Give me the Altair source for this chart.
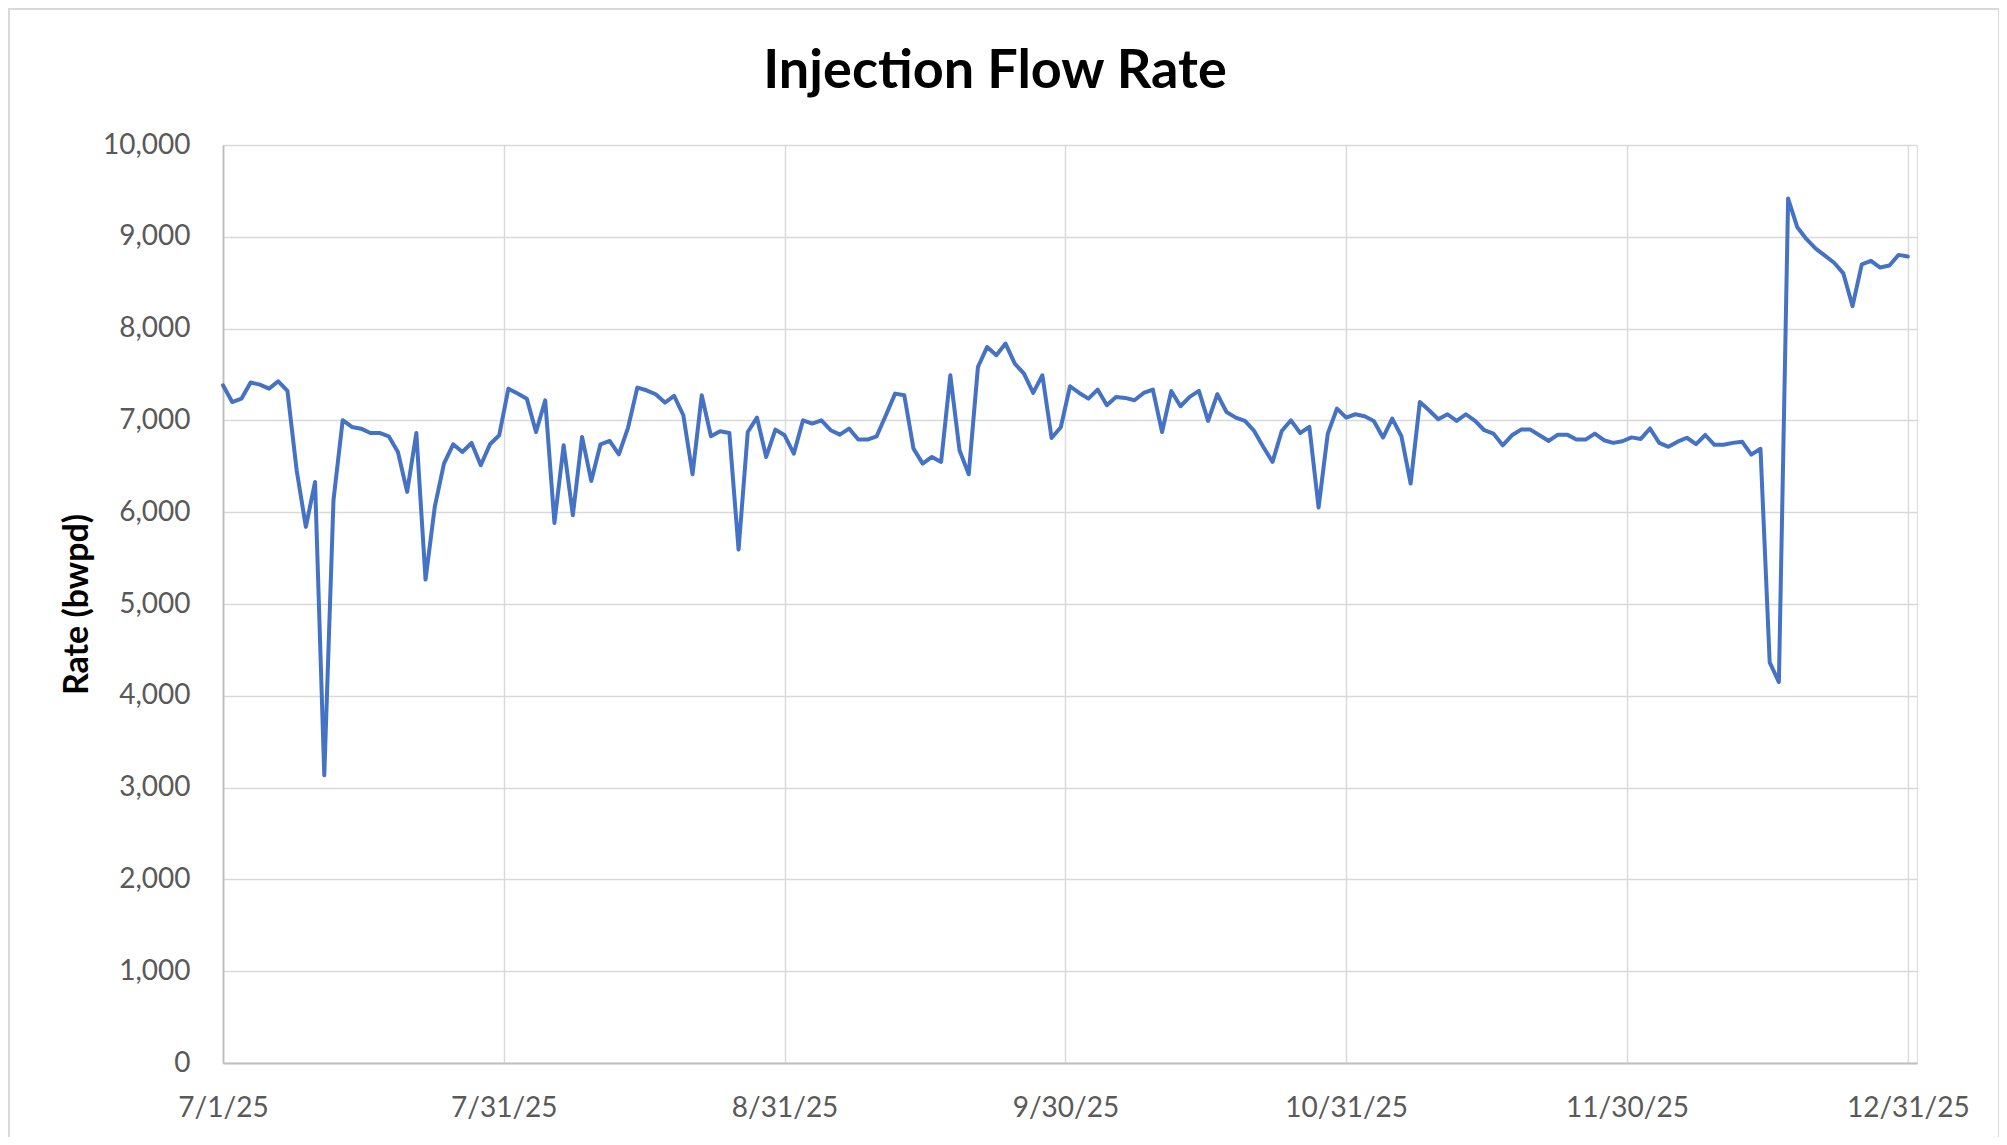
import altair as alt
import pandas as pd

# Daily injection rate (bwpd)
jul = [7383, 7200, 7237, 7412, 7390, 7346, 7426, 7321, 6457, 5840,
       6330, 3134, 6130, 7002, 6929, 6910, 6863, 6863, 6827, 6656,
       6221, 6863, 5266, 6057, 6529, 6740, 6656, 6754, 6511, 6740, 6838]
aug = [7346, 7292, 7237, 6874, 7219, 5883, 6729, 5967, 6820, 6341,
       6740, 6776, 6631, 6922, 7357, 7328, 7285, 7194, 7267, 7056,
       6413, 7274, 6827, 6882, 6863, 5593, 6874, 7030, 6602, 6900, 6838]
sep = [6638, 7001, 6965, 7001, 6893, 6845, 6911, 6791, 6791, 6827,
       7056, 7292, 7274, 6693, 6529, 6602, 6548, 7492, 6675, 6413,
       7582, 7800, 7710, 7837, 7619, 7510, 7299, 7492, 6809, 6925]
octo = [7372, 7299, 7237, 7336, 7165, 7256, 7245, 7219, 7299, 7336,
        6874, 7321, 7154, 7256, 7321, 6994, 7285, 7092, 7030, 6994,
        6885, 6711, 6548, 6885, 7001, 6863, 6929, 6050, 6856, 7129, 7030]
nov = [7067, 7045, 6994, 6813, 7020, 6827, 6312, 7201, 7110, 7012,
       7067, 6994, 7067, 6994, 6893, 6856, 6729, 6838, 6900, 6900,
       6838, 6776, 6845, 6845, 6791, 6791, 6856, 6784, 6755, 6773]
dec = [6815, 6798, 6912, 6755, 6712, 6768, 6811, 6742, 6841, 6734,
       6734, 6755, 6768, 6627, 6691, 4365, 4150, 9416, 9103, 8974,
       8871, 8794, 8717, 8601, 8245, 8700, 8738, 8665, 8687, 8803, 8785]

rates = jul + aug + sep + octo + nov + dec
dates = pd.date_range("2025-07-01", "2025-12-31", freq="D")
df = pd.DataFrame({"date": dates, "rate": rates})

x_ticks = [
    alt.DateTime(year=2025, month=7, date=1),
    alt.DateTime(year=2025, month=7, date=31, hours=12),
    alt.DateTime(year=2025, month=8, date=31),
    alt.DateTime(year=2025, month=9, date=30, hours=12),
    alt.DateTime(year=2025, month=10, date=31),
    alt.DateTime(year=2025, month=11, date=30, hours=12),
    alt.DateTime(year=2025, month=12, date=31),
]
y_ticks = list(range(0, 10001, 1000))

FONT = "Lato"
GRID = "#d9d9d9"
AXIS = "#bfbfbf"
LABEL = "#595959"

line = alt.Chart(df).mark_line(
    color="#4472C4", strokeWidth=4, strokeJoin="round", strokeCap="round"
).encode(
    x=alt.X(
        "date:T",
        scale=alt.Scale(
            domain=[alt.DateTime(year=2025, month=7, date=1),
                    alt.DateTime(year=2026, month=1, date=1)],
            nice=False,
        ),
        axis=alt.Axis(
            values=x_ticks, format="%-m/%-d/%y", title=None,
            grid=True, gridColor=GRID, gridWidth=1.4,
            domainColor=AXIS, domainWidth=1.8,
            ticks=False, tickSize=0, labelPadding=31,
            labelFont=FONT, labelFontSize=28, labelColor=LABEL,
            labelAlign="center", labelFlush=False, labelOverlap=False,
        ),
    ),
    y=alt.Y(
        "rate:Q",
        scale=alt.Scale(domain=[0, 10000], nice=False),
        axis=alt.Axis(
            values=y_ticks, format=",d", title="Rate (bwpd)",
            grid=True, gridColor=GRID, gridWidth=1.4,
            domainColor=AXIS, domainWidth=1.8,
            ticks=False, tickSize=0, labelPadding=33,
            labelFont=FONT, labelFontSize=28, labelColor=LABEL,
            titleFont=FONT, titleFontSize=34, titleFontWeight="bold",
            titleColor="#000000", titleAngle=270, titleAlign="center",
            titleBaseline="alphabetic", titleX=-136, titleY=459,
        ),
    ),
)

border = alt.Chart(pd.DataFrame({"k": [0]})).mark_rect(
    filled=False, stroke="#d9d9d9", strokeWidth=2
).encode(
    x=alt.value(-214), x2=alt.value(1776),
    y=alt.value(-136), y2=alt.value(994),
)

chart = alt.layer(border, line).properties(
    width=1694,
    height=918,
    padding={"left": 215, "top": 137, "right": 82, "bottom": 74},
    autosize=alt.AutoSizeParams(type="none"),
    title=alt.TitleParams(
        "Injection Flow Rate", font=FONT, fontSize=54, fontWeight="bold",
        color="#000000", anchor="middle", dx=-75, dy=134, offset=0,
        baseline="alphabetic",
    ),
).configure_view(stroke=None).configure(background="#ffffff")

chart.save("out.html", embed_options={"renderer": "svg", "actions": False})
